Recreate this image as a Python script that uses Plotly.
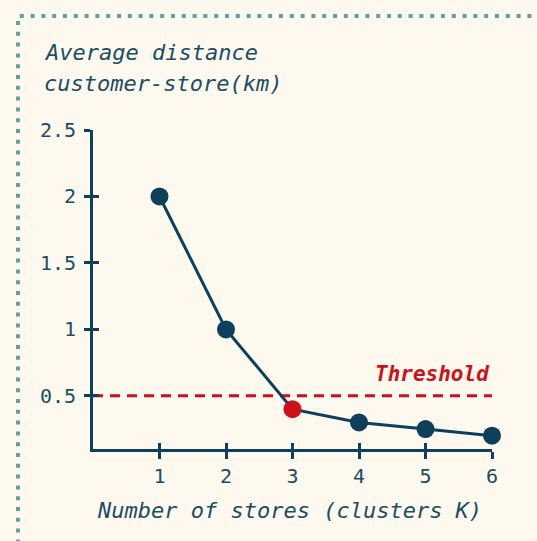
import plotly.graph_objects as go

# Data
stores_k = [1, 2, 3, 4, 5, 6]
avg_distance_km = [2.0, 1.0, 0.4, 0.3, 0.25, 0.2]
highlight_k = 3
threshold = 0.5
x_ticks = [1, 2, 3, 4, 5, 6]
y_ticks = [0.5, 1, 1.5, 2, 2.5]
y_tick_labels = ["0.5", "1", "1.5", "2", "2.5"]

BG = "#fdf9ef"
NAVY = "#0e3f5b"
TEXT = "#1b4d66"
RED = "#cc1119"
DOT = "#5fa39a"
FONT = "DejaVu Sans Mono"

marker_colors = [RED if k == highlight_k else NAVY for k in stores_k]

fig = go.Figure()

# threshold line
fig.add_trace(go.Scatter(
    x=[0, max(stores_k)], y=[threshold, threshold], mode="lines",
    line=dict(color=RED, width=3, dash="10px,7px"), hoverinfo="skip", showlegend=False,
    cliponaxis=False,
))

fig.add_trace(go.Scatter(
    x=stores_k, y=avg_distance_km, mode="lines+markers",
    line=dict(color=NAVY, width=3),
    marker=dict(size=18, color=marker_colors, line=dict(width=0)),
    showlegend=False, cliponaxis=False,
))

# invisible trace for inside-tick overlay axes
fig.add_trace(go.Scatter(
    x=stores_k, y=avg_distance_km, xaxis="x2", yaxis="y2", mode="lines",
    line=dict(width=0), hoverinfo="skip", showlegend=False, opacity=0,
))

xr = [0, 6]
yr = [0.1, 2.5]

fig.update_layout(
    width=537, height=541,
    paper_bgcolor=BG, plot_bgcolor=BG,
    margin=dict(l=93, r=45, t=130, b=92),
    font=dict(family=FONT, color=TEXT, size=20),
    xaxis=dict(range=xr, tickvals=x_ticks, ticks="outside", ticklen=7, tickwidth=3,
               tickcolor=NAVY, showline=True, linewidth=3, linecolor=NAVY,
               showgrid=False, zeroline=False, tickfont=dict(size=20, color=TEXT)),
    yaxis=dict(range=yr, tickvals=y_ticks, ticktext=y_tick_labels, ticks="outside",
               ticklen=6, tickwidth=3, tickcolor=NAVY, showline=True, linewidth=3,
               linecolor=NAVY, showgrid=False, zeroline=False, ticklabelstandoff=4,
               tickfont=dict(size=20, color=TEXT)),
    xaxis2=dict(range=xr, tickvals=x_ticks, ticks="inside", ticklen=6, tickwidth=3,
                tickcolor=NAVY, showticklabels=False, showline=False, showgrid=False,
                zeroline=False, overlaying="x", anchor="y2", side="bottom"),
    yaxis2=dict(range=yr, tickvals=y_ticks, ticks="inside", ticklen=6, tickwidth=3,
                tickcolor=NAVY, showticklabels=False, showline=False, showgrid=False,
                zeroline=False, overlaying="y", anchor="x2", side="left"),
)

# dotted frame
fig.add_shape(type="rect", xref="paper", yref="paper",
              x0=(18 - 93) / 399, x1=1.5, y0=-0.6, y1=1 + (130 - 16) / 319,
              line=dict(color=DOT, width=4, dash="4px,6.8px"), layer="below")

# titles
title_font = dict(family=FONT, size=22, color=TEXT, style="italic")
for line_text, ypx in [("Average distance", 53), ("customer-store(km)", 84)]:
    fig.add_annotation(xref="paper", yref="paper", x=(42 - 93) / 399, y=1 + (130 - ypx) / 319,
                       xanchor="left", yanchor="middle", showarrow=False,
                       text=line_text, font=title_font)
fig.add_annotation(xref="paper", yref="paper", x=(289 - 93) / 399, y=0, yshift=-61,
                   xanchor="center", yanchor="middle", showarrow=False,
                   text="Number of stores (clusters K)", font=title_font)
fig.add_annotation(x=max(stores_k), y=threshold, yshift=8, xanchor="right", yanchor="bottom",
                   showarrow=False, text="<b>Threshold</b>",
                   font=dict(family=FONT, size=21, color=RED, style="italic"))

fig.write_html("out.html", config={"displayModeBar": False}, post_script=(
    "document.body.style.margin='0px';"
    "document.body.style.background='" + BG + "';"
))
